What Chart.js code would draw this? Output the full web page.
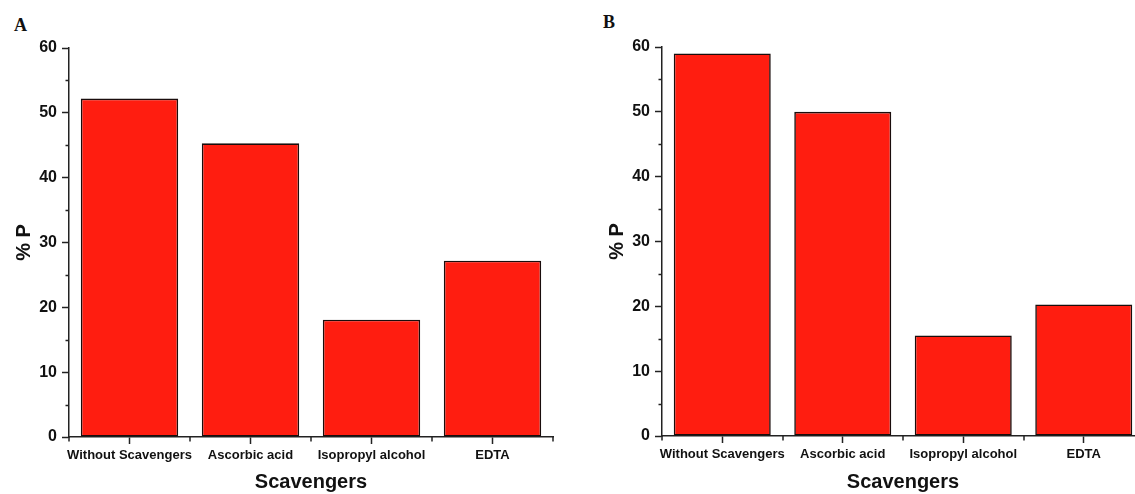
<!DOCTYPE html>
<html>
<head>
<meta charset="utf-8">
<script src="https://cdn.jsdelivr.net/npm/chart.js@4/dist/chart.umd.min.js"></script>
<style>
  html, body { margin: 0; padding: 0; background: #fff; overflow: hidden; }
  body { width: 1135px; height: 494px; position: relative; }
  canvas { position: absolute; top: 0; }
  #chartA { left: 0; }
  #chartB { left: 593px; }
  .panel-label {
    position: absolute;
    font-family: "Liberation Serif", "Times New Roman", serif;
    font-weight: bold;
    font-size: 18px;
    line-height: 18px;
    color: #111;
  }
</style>
</head>
<body>
<div class="panel-label" style="left:14px; top:16px;">A</div>
<div class="panel-label" style="left:603px; top:13px;">B</div>
<canvas id="chartA" width="567" height="494"></canvas>
<canvas id="chartB" width="567" height="494"></canvas>
<script>
// Scavenger categories shared by both panels
const categories = ["Without Scavengers", "Ascorbic acid", "Isopropyl alcohol", "EDTA"];
// % P for each panel
const valuesA = [52.2, 45.3, 18.1, 27.2];
const valuesB = [59.0, 50.0, 15.5, 20.3];
// Y axis range and major step
const yMin = 0;
const yMax = 60;
const yStep = 10;
const yMinorValues = [5, 15, 25, 35, 45, 55];

const AXIS_COLOR = "#222";
const BAR_COLOR = "#FF1D10";
const FONT = "'Liberation Sans', Arial, Helvetica, sans-serif";

// Short minor ticks: between major y ticks and at category boundaries
const minorTicks = {
  id: "minorTicks",
  afterDraw(chart) {
    const ctx = chart.ctx;
    const x = chart.scales.x;
    const y = chart.scales.y;
    const left = chart.chartArea.left;
    const bottom = chart.chartArea.bottom;
    ctx.save();
    ctx.strokeStyle = AXIS_COLOR;
    ctx.lineWidth = 1.5;
    ctx.beginPath();
    yMinorValues.forEach(v => {
      const py = Math.round(y.getPixelForValue(v)) + 0.5;
      ctx.moveTo(left - 3.5, py);
      ctx.lineTo(left, py);
    });
    for (let i = 0; i <= categories.length; i++) {
      const px = Math.round(x.getPixelForValue(i - 0.5));
      ctx.moveTo(px, bottom);
      ctx.lineTo(px, bottom + 4.5);
    }
    ctx.stroke();
    ctx.restore();
  }
};

function makeChart(id, values, padTop, padRight, xHeight) {
  return new Chart(document.getElementById(id), {
    type: "bar",
    data: {
      labels: categories,
      datasets: [{
        data: values,
        backgroundColor: BAR_COLOR,
        borderColor: "#1a0d0c",
        borderWidth: 1.6,
        borderSkipped: false,
        categoryPercentage: 1.0,
        barPercentage: 0.805
      }]
    },
    options: {
      responsive: false,
      animation: false,
      events: [],
      layout: { padding: { left: 0, top: padTop, right: padRight, bottom: 0 } },
      plugins: { legend: { display: false }, tooltip: { enabled: false } },
      scales: {
        x: {
          offset: true,
          grid: {
            offset: false,
            drawOnChartArea: false,
            drawTicks: true,
            tickLength: 7,
            tickWidth: 1.5,
            tickColor: AXIS_COLOR
          },
          border: { display: true, color: AXIS_COLOR, width: 1.5 },
          ticks: {
            color: "#111",
            padding: 4,
            maxRotation: 0,
            autoSkip: false,
            font: { family: FONT, size: 13, weight: "bold" }
          },
          title: {
            display: true,
            text: "Scavengers",
            color: "#111",
            padding: { top: 0, bottom: 0 },
            font: { family: FONT, size: 20, weight: "bold" }
          },
          afterFit(scale) { scale.height = xHeight; }
        },
        y: {
          min: yMin,
          max: yMax,
          grid: {
            drawOnChartArea: false,
            drawTicks: true,
            tickLength: 7,
            tickWidth: 1.5,
            tickColor: AXIS_COLOR
          },
          border: { display: true, color: AXIS_COLOR, width: 1.5 },
          ticks: {
            stepSize: yStep,
            color: "#111",
            padding: 5,
            font: { family: FONT, size: 16, weight: "bold" }
          },
          title: {
            display: true,
            text: "% P",
            color: "#111",
            padding: { top: 12, bottom: 0 },
            font: { family: FONT, size: 20, weight: "bold" }
          },
          afterFit(scale) { scale.width = 69; }
        }
      }
    },
    plugins: [minorTicks]
  });
}

makeChart("chartA", valuesA, 48, 14, 57);
makeChart("chartB", valuesB, 47, 16, 58);
</script>
</body>
</html>
